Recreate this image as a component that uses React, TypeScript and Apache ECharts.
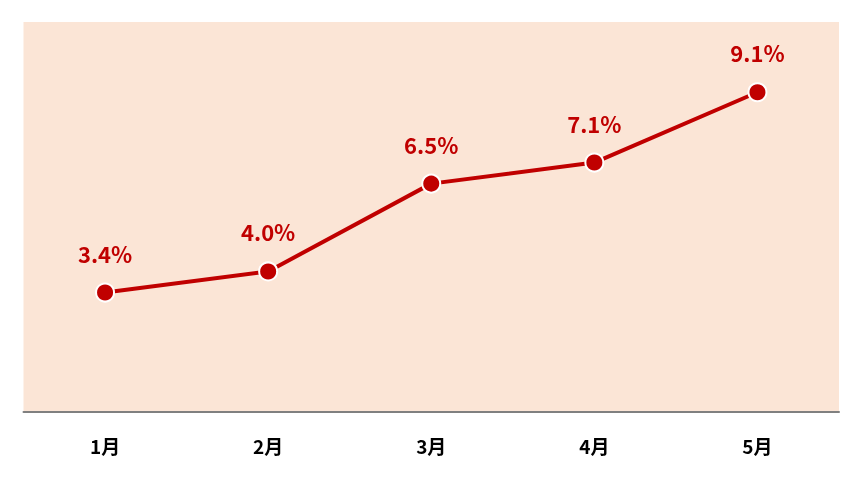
import React, { useEffect, useRef } from "react";
import * as echarts from "echarts";

const categories = ["1月", "2月", "3月", "4月", "5月"];
const values = [3.4, 4.0, 6.5, 7.1, 9.1];

export default function App() {
  const ref = useRef<HTMLDivElement>(null);
  useEffect(() => {
    const chart = echarts.init(ref.current!, null, { renderer: "svg" });
    chart.setOption({
      animation: false,
      textStyle: { fontFamily: "'Noto Sans CJK SC', 'Noto Sans', sans-serif" },
      grid: {
        left: 23.5,
        right: 23,
        top: 22,
        bottom: 68,
        show: true,
        backgroundColor: "#FBE5D6",
        borderWidth: 0,
      },
      xAxis: {
        type: "category",
        data: categories,
        boundaryGap: true,
        axisLine: { show: true, lineStyle: { color: "#808080", width: 2 } },
        axisTick: { show: false },
        axisLabel: {
          color: "#000000",
          fontSize: 19,
          fontWeight: "bold",
          margin: 24,
        },
      },
      yAxis: {
        type: "value",
        min: 0,
        max: 11.1,
        show: false,
        splitLine: { show: false },
      },
      series: [
        {
          type: "line",
          data: values,
          symbol: "circle",
          symbolSize: 18,
          lineStyle: { color: "#C00000", width: 4 },
          itemStyle: { color: "#C00000", borderColor: "#FFFFFF", borderWidth: 2 },
          label: {
            show: true,
            position: "top",
            distance: 19,
            color: "#C00000",
            fontSize: 22,
            fontWeight: "bold",
            formatter: (p: any) => p.value.toFixed(1) + "%",
          },
        },
      ],
    });
    return () => chart.dispose();
  }, []);
  return (
    <div
      ref={ref}
      style={{ position: "fixed", left: 0, top: 0, width: 862, height: 480 }}
    />
  );
}
